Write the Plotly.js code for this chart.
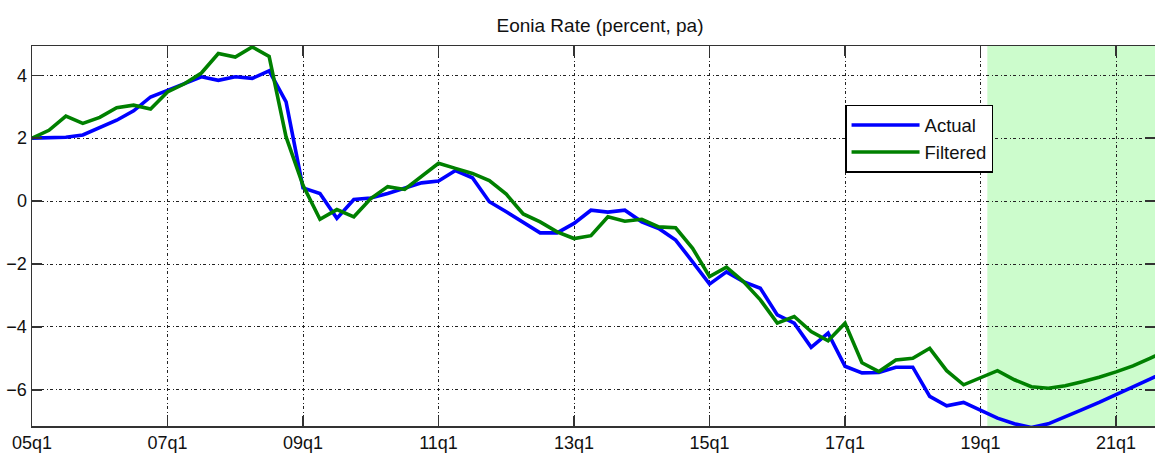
<!DOCTYPE html>
<html>
<head>
<meta charset="utf-8">
<script src="https://cdn.plot.ly/plotly-3.0.1.min.js"></script>
<style>html,body{margin:0;padding:0;background:#fff;overflow:hidden}#chart{width:1155px;height:454px}</style>
</head>
<body>
<div id="chart"></div>
<script>
// Quarters from 05q1 (index 0) to 21q4 (index 67)
const quarterIndex = [];
for (let i = 0; i <= 67; i++) quarterIndex.push(i);

const tickPositions = [0, 8, 16, 24, 32, 40, 48, 56, 64];
const tickLabels = ['05q1', '07q1', '09q1', '11q1', '13q1', '15q1', '17q1', '19q1', '21q1'];

const actual = [
  2.0, 2.02, 2.03, 2.1, 2.33, 2.57, 2.87, 3.31, 3.52, 3.75,
  3.95, 3.84, 3.95, 3.9, 4.14, 3.15, 0.42, 0.24, -0.55, 0.05,
  0.1, 0.24, 0.4, 0.58, 0.64, 0.97, 0.74, -0.02, -0.34, -0.69,
  -1.01, -1.01, -0.71, -0.29, -0.35, -0.29, -0.66, -0.87, -1.24, -1.93,
  -2.64, -2.25, -2.56, -2.77, -3.62, -3.88, -4.65, -4.2, -5.25, -5.46,
  -5.45, -5.28, -5.28, -6.21, -6.51, -6.4, -6.66, -6.9, -7.08, -7.2,
  -7.08, -6.87, -6.63, -6.4, -6.16, -5.9, -5.66, -5.4
];

const filtered = [
  2.0, 2.25, 2.7, 2.47, 2.66, 2.97, 3.05, 2.93, 3.47, 3.73,
  4.07, 4.69, 4.58, 4.9, 4.6, 2.04, 0.5, -0.58, -0.27, -0.5,
  0.08, 0.46, 0.37, 0.78, 1.2, 1.04, 0.88, 0.65, 0.22, -0.41,
  -0.66, -0.98, -1.19, -1.1, -0.5, -0.64, -0.58, -0.82, -0.85, -1.5,
  -2.4, -2.1, -2.56, -3.14, -3.88, -3.67, -4.15, -4.44, -3.88, -5.14,
  -5.42, -5.05, -5.0, -4.68, -5.39, -5.84, -5.63, -5.39, -5.68, -5.9,
  -5.95, -5.87, -5.74, -5.6, -5.43, -5.24, -5.0, -4.75
];

const forecastStart = 56.4;

const FONT = 'Liberation Sans, Arial, Helvetica, sans-serif';
const gridDash = '3px,2.5px,1px,2.5px';

const traces = [
  {x: quarterIndex, y: actual, name: 'Actual', type: 'scatter', mode: 'lines',
   line: {color: '#0000ff', width: 3.6}, cliponaxis: true},
  {x: quarterIndex, y: filtered, name: 'Filtered', type: 'scatter', mode: 'lines',
   line: {color: '#008000', width: 3.6}, cliponaxis: true}
];

const layout = {
  width: 1155, height: 454,
  margin: {l: 32, r: 0, t: 46, b: 28, pad: 0},
  paper_bgcolor: '#ffffff', plot_bgcolor: '#ffffff',
  font: {family: FONT, size: 18, color: '#111'},
  title: {text: 'Eonia Rate (percent, pa)', font: {family: FONT, size: 19, color: '#111'},
          x: 600 / 1155, xref: 'container', xanchor: 'center', y: 0.945, yanchor: 'middle'},
  showlegend: true,
  legend: {x: 0.724, y: 0.845, xanchor: 'left', yanchor: 'top', bgcolor: '#ffffff',
           bordercolor: '#000', borderwidth: 1.5, font: {family: FONT, size: 18.5, color: '#111'},
           itemwidth: 68, tracegroupgap: 0},
  xaxis: {range: [0, 66.3], tickvals: tickPositions, ticktext: tickLabels,
          showgrid: true, gridcolor: '#222', gridwidth: 1, griddash: gridDash,
          zeroline: false, showline: true, linecolor: '#333', linewidth: 1.5, mirror: 'ticks',
          ticks: 'inside', ticklen: 10, tickwidth: 1.5, tickcolor: '#333',
          tickfont: {family: FONT, size: 18, color: '#111'}, fixedrange: true},
  yaxis: {range: [-7.15, 4.93], tickvals: [-6, -4, -2, 0, 2, 4], ticktext: ['\u22126', '\u22124', '\u22122', '0', '2', '4'],
          showgrid: true, gridcolor: '#222', gridwidth: 1, griddash: gridDash,
          zeroline: false, showline: true, linecolor: '#333', linewidth: 1.5, mirror: 'ticks',
          ticks: 'inside', ticklen: 10, tickwidth: 1.5, tickcolor: '#333',
          tickfont: {family: FONT, size: 18, color: '#111'}, fixedrange: true},
  shapes: [
    {type: 'rect', layer: 'below', xref: 'x', yref: 'paper', x0: forecastStart, x1: 66.3, y0: 0, y1: 1,
     fillcolor: '#ccfccc', line: {width: 0}}
  ]
};

Plotly.newPlot('chart', traces, layout, {displayModeBar: false, staticPlot: true});
</script>
</body>
</html>
